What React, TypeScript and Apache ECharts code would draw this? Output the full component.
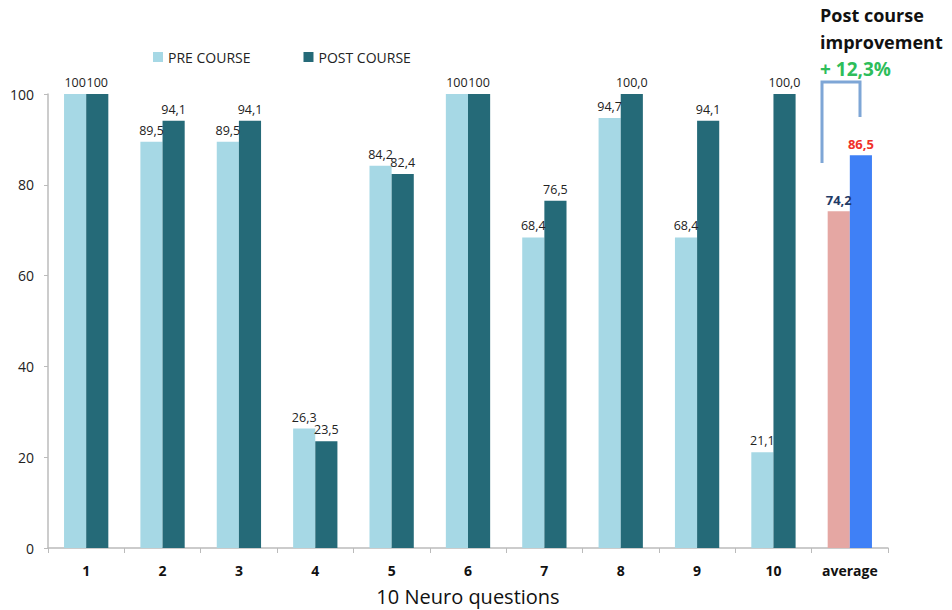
import React, { useEffect, useRef } from "react";
import * as echarts from "echarts";

const categories = ["1", "2", "3", "4", "5", "6", "7", "8", "9", "10", "average"];
const preValues = [100, 89.5, 89.5, 26.3, 84.2, 100, 68.4, 94.7, 68.4, 21.1, 74.2];
const postValues = [100, 94.1, 94.1, 23.5, 82.4, 100, 76.5, 100, 94.1, 100, 86.5];
const preLabels = ["100", "89,5", "89,5", "26,3", "84,2", "100", "68,4", "94,7", "68,4", "21,1", "74,2"];
const postLabels = ["100", "94,1", "94,1", "23,5", "82,4", "100", "76,5", "100,0", "94,1", "100,0", "86,5"];
const yTicks = [0, 20, 40, 60, 80, 100];

const PRE = "#a6d8e5";
const POST = "#256a78";
const AVG_PRE = "#e5a7a3";
const AVG_POST = "#3f80f6";
const FONT = "'Open Sans', 'Noto Sans', sans-serif";

export default function App() {
  const ref = useRef<HTMLDivElement>(null);
  useEffect(() => {
    if (!ref.current) return;
    const chart = echarts.init(ref.current, null, { renderer: "svg" });
    const last = categories.length - 1;
    const mk = (vals: number[], labels: string[], color: string, avgColor: string, avgLabelColor: string) =>
      vals.map((v, i) => ({
        value: v,
        itemStyle: { color: i === last ? avgColor : color },
        label:
          i === last
            ? { show: true, position: "top", formatter: labels[i], color: avgLabelColor, fontWeight: "bold", fontSize: 13, fontFamily: FONT }
            : { show: true, position: "top", formatter: labels[i], color: "#222", fontSize: 12.5, fontFamily: FONT },
      }));
    chart.setOption({
      animation: false,
      textStyle: { fontFamily: FONT },
      legend: {
        data: ["PRE COURSE", "POST COURSE"],
        left: 148,
        top: 45,
        itemWidth: 10,
        itemHeight: 10,
        itemGap: 53,
        icon: "rect",
        textStyle: { fontSize: 14, color: "#222", fontFamily: FONT },
      },
      grid: { left: 48, right: 64, top: 94, bottom: 62, containLabel: false, outerBoundsMode: "none" },
      xAxis: {
        type: "category",
        data: categories,
        axisLine: { lineStyle: { color: "#bbbbbb", width: 1.5 } },
        axisTick: { show: true, length: 5, lineStyle: { color: "#bbbbbb" } },
        axisLabel: { fontWeight: "bold", fontSize: 14, color: "#111", margin: 15, fontFamily: FONT },
        name: "10 Neuro questions",
        nameLocation: "middle",
        nameGap: 38,
        nameTextStyle: { fontSize: 20, color: "#111", fontFamily: FONT },
      },
      yAxis: {
        type: "value",
        min: 0,
        max: 100,
        interval: 20,
        axisLine: { show: true, lineStyle: { color: "#bbbbbb", width: 1.5 } },
        axisTick: { show: true, length: 4, lineStyle: { color: "#bbbbbb" } },
        splitLine: { show: false },
        axisLabel: {
          fontSize: 14,
          color: "#222",
          margin: 14,
          fontFamily: FONT,
          formatter: (v: number) => (yTicks.includes(v) ? String(v) : ""),
        },
      },
      series: [
        {
          name: "PRE COURSE",
          type: "bar",
          itemStyle: { color: PRE },
          data: mk(preValues, preLabels, PRE, AVG_PRE, "#1f3b66"),
          barGap: "0%",
          barCategoryGap: "42%",
        },
        {
          name: "POST COURSE",
          type: "bar",
          itemStyle: { color: POST },
          data: mk(postValues, postLabels, POST, AVG_POST, "#f0302a"),
          barGap: "0%",
          barCategoryGap: "42%",
        },
      ],
      graphic: [
        {
          type: "text",
          left: 820,
          top: 6,
          style: { text: "Post course", fontSize: 18, fontWeight: "bold", fill: "#111", fontFamily: FONT },
        },
        {
          type: "text",
          left: 820,
          top: 33,
          style: { text: "improvement", fontSize: 18, fontWeight: "bold", fill: "#111", fontFamily: FONT },
        },
        {
          type: "text",
          left: 820,
          top: 59,
          style: { text: "+ 12,3%", fontSize: 19, fontWeight: "bold", fill: "#2ebd5a", fontFamily: FONT },
        },
        {
          type: "polyline",
          shape: { points: [[822, 163], [822, 82], [860, 82], [860, 117]] },
          style: { stroke: "#7ea6d6", lineWidth: 3, fill: "none" },
        },
      ],
    });
    return () => chart.dispose();
  }, []);
  return <div ref={ref} style={{ width: 952, height: 610, position: "absolute", left: 0, top: 0 }} />;
}
